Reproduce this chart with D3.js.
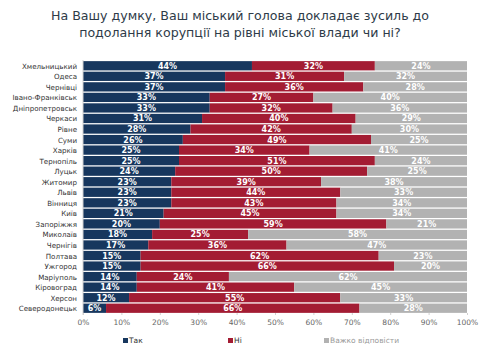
<!DOCTYPE html>
<html>
<head>
<meta charset="utf-8">
<script src="https://cdn.jsdelivr.net/npm/d3@7"></script>
<style>
  body { margin: 0; background: #fff; }
  svg { font-family: "DejaVu Sans", Verdana, sans-serif; }
</style>
</head>
<body>
<script>
const cities = ["Хмельницький","Одеса","Чернівці","Івано-Франківськ","Дніпропетровськ","Черкаси","Рівне","Суми","Харків","Тернопіль","Луцьк","Житомир","Львів","Вінниця","Київ","Запоріжжя","Миколаїв","Чернігів","Полтава","Ужгород","Маріуполь","Кіровоград","Херсон","Северодонецьк"];
const yes  = [44,37,37,33,33,31,28,26,25,25,24,23,23,23,21,20,18,17,15,15,14,14,12,6];
const no   = [32,31,36,27,32,40,42,49,34,51,50,39,44,43,45,59,25,36,62,66,24,41,55,66];
const hard = [24,32,28,40,36,29,30,25,41,24,25,38,33,34,34,21,58,47,23,20,62,45,33,28];
const seriesNames = ["Так","Ні","Важко відповісти"];
const ticks = [0,10,20,30,40,50,60,70,80,90,100];

const width = 480, height = 348;
const colors = ["#17375e","#a31c33","#b2b2b2"];

const svg = d3.select("body").append("svg")
  .attr("width", width)
  .attr("height", height);

// title
svg.append("text")
  .attr("x", 240).attr("y", 20)
  .attr("text-anchor", "middle")
  .attr("font-size", 12.6)
  .attr("fill", "#2e3b48")
  .selectAll("tspan")
  .data(["На Вашу думку, Ваш міський голова докладає зусиль до", "подолання корупції на рівні міської влади чи ні?"])
  .enter().append("tspan")
  .attr("x", 240)
  .attr("dy", (d, i) => i ? 17 : 0)
  .text(d => d);

const x = d3.scaleLinear().domain([0, 100]).range([83, 467]);
const y = d3.scaleBand().domain(cities).range([60.5, 313.5]).paddingInner(0.12).paddingOuter(0.06);

const rows = cities.map((c, i) => ({ city: c, vals: [yes[i], no[i], hard[i]] }));
const stacked = [];
rows.forEach(r => {
  let acc = 0;
  r.vals.forEach((v, k) => {
    // last segment fills to 100%
    const end = k === 2 ? 100 : acc + v;
    stacked.push({ city: r.city, k: k, v: v, x0: acc, x1: end });
    acc += v;
  });
});

svg.selectAll("rect.seg")
  .data(stacked)
  .enter().append("rect")
  .attr("class", "seg")
  .attr("x", d => x(d.x0))
  .attr("y", d => y(d.city))
  .attr("width", d => Math.max(0, x(d.x1) - x(d.x0)))
  .attr("height", y.bandwidth())
  .attr("fill", d => colors[d.k]);

svg.selectAll("text.val")
  .data(stacked)
  .enter().append("text")
  .attr("class", "val")
  .attr("x", d => (x(d.x0) + x(d.x1)) / 2)
  .attr("y", d => y(d.city) + y.bandwidth() / 2 + 3)
  .attr("text-anchor", "middle")
  .attr("font-size", 8)
  .attr("font-weight", "bold")
  .attr("fill", "#fff")
  .text(d => d.v + "%");

// category labels
svg.selectAll("text.cat")
  .data(cities)
  .enter().append("text")
  .attr("class", "cat")
  .attr("x", 77)
  .attr("y", d => y(d) + y.bandwidth() / 2 + 3)
  .attr("text-anchor", "end")
  .attr("font-size", 7.1)
  .attr("fill", "#333")
  .text(d => d);

// left axis line
svg.append("line")
  .attr("x1", x(0)).attr("x2", x(0))
  .attr("y1", 60).attr("y2", 315)
  .attr("stroke", "#d0d0d0");

// x axis
const xAxis = d3.axisBottom(x)
  .tickValues(ticks)
  .tickFormat(d => d + "%")
  .tickSize(2);
const gx = svg.append("g")
  .attr("transform", "translate(0,313)")
  .call(xAxis);
gx.select(".domain").remove();
gx.selectAll("line").attr("stroke", "#d0d0d0");
gx.selectAll("text")
  .attr("font-size", 7.5)
  .attr("font-family", "DejaVu Sans, Verdana, sans-serif")
  .attr("fill", "#666")
  .attr("dy", "0.9em");

// legend
const legendX = [123, 228, 324];
const lg = svg.selectAll("g.leg")
  .data(seriesNames)
  .enter().append("g")
  .attr("class", "leg")
  .attr("transform", (d, i) => "translate(" + legendX[i] + ",343)");
lg.append("rect")
  .attr("x", 0).attr("y", -5)
  .attr("width", 5).attr("height", 5)
  .attr("fill", (d, i) => colors[i]);
lg.append("text")
  .attr("x", 6).attr("y", 0)
  .attr("font-size", 7.5)
  .attr("fill", (d, i) => i === 2 ? "#999" : "#333")
  .text(d => d);
</script>
</body>
</html>
